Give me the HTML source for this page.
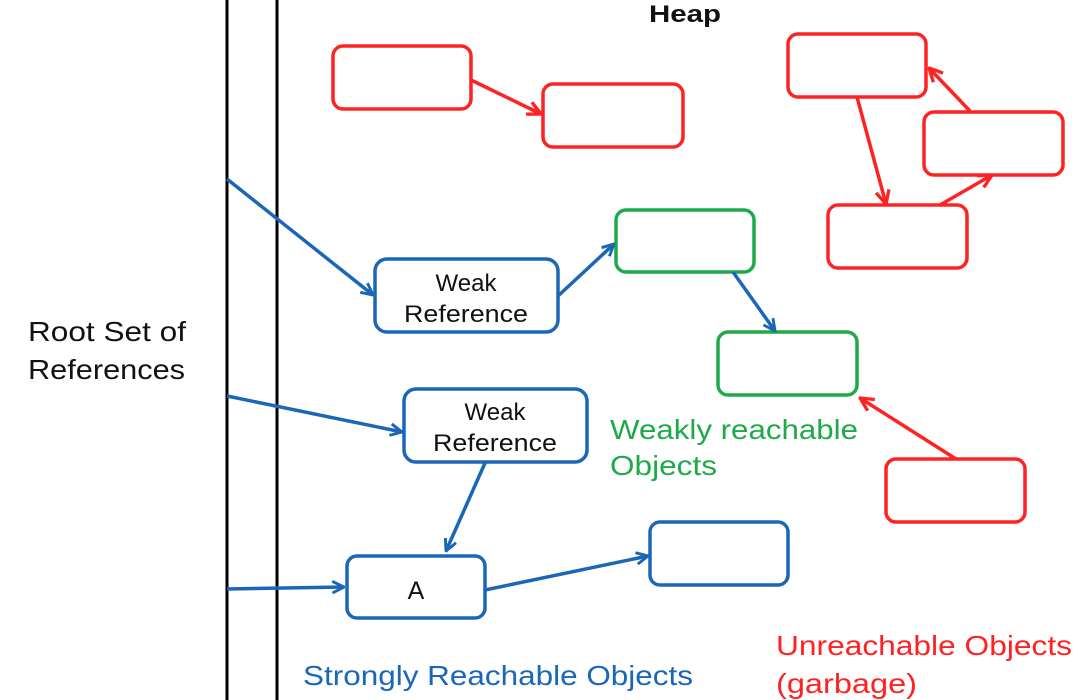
<!DOCTYPE html>
<html><head><style>body{margin:0;background:#fff}svg{display:block}</style></head>
<body>
<svg width="1080" height="700" viewBox="0 0 1080 700" xmlns="http://www.w3.org/2000/svg" font-family="Liberation Sans, DejaVu Sans, sans-serif">
<defs>
<marker id="ab" viewBox="0 0 12 12" refX="11" refY="6" markerWidth="14" markerHeight="14" markerUnits="userSpaceOnUse" orient="auto"><path d="M1,1 L11,6 L1,11" fill="none" stroke="#1a67b8" stroke-width="2.5"/></marker>
<marker id="ar" viewBox="0 0 12 12" refX="11" refY="6" markerWidth="16" markerHeight="16" markerUnits="userSpaceOnUse" orient="auto"><path d="M1,1 L11,6 L1,11" fill="none" stroke="#ff2222" stroke-width="2.5"/></marker>
</defs>
<line x1="227" y1="0" x2="227" y2="700" stroke="#000" stroke-width="3"/>
<line x1="277" y1="0" x2="277" y2="700" stroke="#000" stroke-width="3"/>
<g fill="#fff" stroke="#ff2222" stroke-width="3.5">
<rect x="333" y="46" width="138" height="63" rx="10"/>
<rect x="543" y="84" width="140" height="63" rx="10"/>
<rect x="788" y="34" width="138" height="63" rx="10"/>
<rect x="924" y="112" width="139" height="63" rx="10"/>
<rect x="828" y="205" width="139" height="63" rx="10"/>
<rect x="886" y="459" width="139" height="63" rx="10"/>
</g>
<g fill="#fff" stroke="#1faa4a" stroke-width="3.5">
<rect x="616" y="210" width="138" height="62" rx="10"/>
<rect x="718" y="332" width="139" height="63" rx="10"/>
</g>
<g fill="#fff" stroke="#1a67b8" stroke-width="3.5">
<rect x="375" y="259" width="183" height="73" rx="12"/>
<rect x="404" y="389" width="183" height="73" rx="12"/>
<rect x="347" y="556" width="138" height="62" rx="10"/>
<rect x="650" y="522" width="138" height="63" rx="10"/>
</g>
<g stroke="#ff2222" stroke-width="3.5" fill="none" marker-end="url(#ar)">
<line x1="471" y1="80" x2="541" y2="114"/>
<line x1="857" y1="97" x2="886" y2="204"/>
<line x1="970" y1="111" x2="929" y2="68"/>
<line x1="940" y1="205" x2="992" y2="175"/>
<line x1="956" y1="459" x2="860" y2="398"/>
</g>
<g stroke="#1a67b8" stroke-width="3.5" fill="none" marker-end="url(#ab)">
<line x1="733" y1="272" x2="775" y2="331"/>
<line x1="558" y1="296" x2="614" y2="244"/>
<line x1="227" y1="179" x2="373" y2="295"/>
<line x1="227" y1="396" x2="402" y2="432"/>
<line x1="485" y1="463" x2="446" y2="551"/>
<line x1="227" y1="589" x2="344" y2="587"/>
<line x1="485" y1="590" x2="648" y2="556"/>
</g>
<g fill="#111" font-size="24" lengthAdjust="spacingAndGlyphs">
<text x="649" y="22" font-weight="bold" textLength="72" lengthAdjust="spacingAndGlyphs">Heap</text>
<text x="466" y="291" text-anchor="middle">Weak</text>
<text x="466" y="322" text-anchor="middle" textLength="124" lengthAdjust="spacingAndGlyphs">Reference</text>
<text x="495" y="420" text-anchor="middle">Weak</text>
<text x="495" y="451" text-anchor="middle" textLength="124" lengthAdjust="spacingAndGlyphs">Reference</text>
<text x="416" y="599" text-anchor="middle" font-size="25">A</text>
</g>
<g font-size="28">
<text x="28" y="341" fill="#111" textLength="158" lengthAdjust="spacingAndGlyphs">Root Set of</text>
<text x="28" y="379" fill="#111" textLength="157" lengthAdjust="spacingAndGlyphs">References</text>
<text x="610" y="439" fill="#1faa4a" textLength="248" lengthAdjust="spacingAndGlyphs">Weakly reachable</text>
<text x="610" y="475" fill="#1faa4a" textLength="107" lengthAdjust="spacingAndGlyphs">Objects</text>
<text x="303" y="685" fill="#1a67b8" textLength="390" lengthAdjust="spacingAndGlyphs">Strongly Reachable Objects</text>
<text x="776" y="655" fill="#ff2222" textLength="296" lengthAdjust="spacingAndGlyphs">Unreachable Objects</text>
<text x="776" y="693" fill="#ff2222" textLength="141" lengthAdjust="spacingAndGlyphs">(garbage)</text>
</g>
</svg>
</body></html>
